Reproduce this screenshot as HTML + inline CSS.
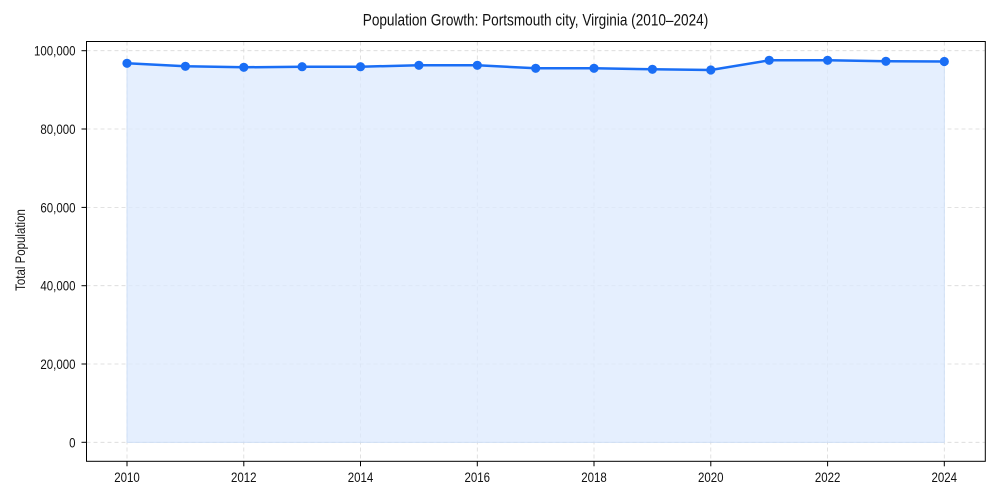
<!DOCTYPE html>
<html><head><meta charset="utf-8"><style>
html,body{margin:0;padding:0;background:#fff;}
svg{display:block;}
text{font-family:"Liberation Sans Narrow","Liberation Sans",sans-serif;fill:#111;}
</style></head><body>
<svg width="1000" height="500" viewBox="0 0 1000 500" xmlns="http://www.w3.org/2000/svg">
<rect x="0" y="0" width="1000" height="500" fill="#fff"/>
<text font-size="16.6" text-anchor="middle" transform="translate(535.5,25.7) scale(0.82,1)">Population Growth: Portsmouth city, Virginia (2010–2024)</text>
<!-- grid -->
<g stroke="#d9d9d9" stroke-width="0.8" stroke-dasharray="4,3" fill="none">
<line x1="86.5" x2="985.3" y1="442.3" y2="442.3"/>
<line x1="86.5" x2="985.3" y1="364" y2="364"/>
<line x1="86.5" x2="985.3" y1="285.7" y2="285.7"/>
<line x1="86.5" x2="985.3" y1="207.4" y2="207.4"/>
<line x1="86.5" x2="985.3" y1="129" y2="129"/>
<line x1="86.5" x2="985.3" y1="50.7" y2="50.7"/>
<line y1="41.5" y2="461.3" x1="127" x2="127"/>
<line y1="41.5" y2="461.3" x1="243.8" x2="243.8"/>
<line y1="41.5" y2="461.3" x1="360.5" x2="360.5"/>
<line y1="41.5" y2="461.3" x1="477.3" x2="477.3"/>
<line y1="41.5" y2="461.3" x1="594" x2="594"/>
<line y1="41.5" y2="461.3" x1="710.8" x2="710.8"/>
<line y1="41.5" y2="461.3" x1="827.6" x2="827.6"/>
<line y1="41.5" y2="461.3" x1="944.3" x2="944.3"/>
</g>
<!-- fill -->
<polygon fill="#dce9fd" fill-opacity="0.75" stroke="#c9dbf5" stroke-width="0.8" points="127,442.3 127,63.3 185.4,66.3 243.8,67.3 302.1,66.7 360.5,66.7 418.9,65.3 477.3,65.3 535.7,68.3 594,68.3 652.4,69.3 710.8,70 769.2,60.3 827.6,60.3 885.9,61.3 944.3,61.5 944.3,442.3"/>
<!-- line -->
<polyline fill="none" stroke="#1a6ef5" stroke-width="2.5" stroke-linejoin="round" points="127,63.3 185.4,66.3 243.8,67.3 302.1,66.7 360.5,66.7 418.9,65.3 477.3,65.3 535.7,68.3 594,68.3 652.4,69.3 710.8,70 769.2,60.3 827.6,60.3 885.9,61.3 944.3,61.5"/>
<g fill="#1a6ef5">
<circle cx="127" cy="63.3" r="4.6"/>
<circle cx="185.4" cy="66.3" r="4.6"/>
<circle cx="243.8" cy="67.3" r="4.6"/>
<circle cx="302.1" cy="66.7" r="4.6"/>
<circle cx="360.5" cy="66.7" r="4.6"/>
<circle cx="418.9" cy="65.3" r="4.6"/>
<circle cx="477.3" cy="65.3" r="4.6"/>
<circle cx="535.7" cy="68.3" r="4.6"/>
<circle cx="594" cy="68.3" r="4.6"/>
<circle cx="652.4" cy="69.3" r="4.6"/>
<circle cx="710.8" cy="70" r="4.6"/>
<circle cx="769.2" cy="60.3" r="4.6"/>
<circle cx="827.6" cy="60.3" r="4.6"/>
<circle cx="885.9" cy="61.3" r="4.6"/>
<circle cx="944.3" cy="61.5" r="4.6"/>
</g>
<!-- axes -->
<rect x="86.5" y="41.5" width="898.8" height="419.8" fill="none" stroke="#000" stroke-width="1"/>
<g stroke="#000" stroke-width="1">
<line x1="81.5" x2="86.5" y1="442.3" y2="442.3"/>
<line x1="81.5" x2="86.5" y1="364" y2="364"/>
<line x1="81.5" x2="86.5" y1="285.7" y2="285.7"/>
<line x1="81.5" x2="86.5" y1="207.4" y2="207.4"/>
<line x1="81.5" x2="86.5" y1="129" y2="129"/>
<line x1="81.5" x2="86.5" y1="50.7" y2="50.7"/>
<line y1="461.3" y2="466.3" x1="127" x2="127"/>
<line y1="461.3" y2="466.3" x1="243.8" x2="243.8"/>
<line y1="461.3" y2="466.3" x1="360.5" x2="360.5"/>
<line y1="461.3" y2="466.3" x1="477.3" x2="477.3"/>
<line y1="461.3" y2="466.3" x1="594" x2="594"/>
<line y1="461.3" y2="466.3" x1="710.8" x2="710.8"/>
<line y1="461.3" y2="466.3" x1="827.6" x2="827.6"/>
<line y1="461.3" y2="466.3" x1="944.3" x2="944.3"/>
</g>
<g font-size="14" text-anchor="end">
<text transform="translate(75.5,447.3) scale(0.82,1)">0</text>
<text transform="translate(75.5,369) scale(0.82,1)">20,000</text>
<text transform="translate(75.5,290.7) scale(0.82,1)">40,000</text>
<text transform="translate(75.5,212.4) scale(0.82,1)">60,000</text>
<text transform="translate(75.5,134) scale(0.82,1)">80,000</text>
<text transform="translate(75.5,55.7) scale(0.82,1)">100,000</text>
</g>
<g font-size="14" text-anchor="middle">
<text transform="translate(127,481.9) scale(0.82,1)">2010</text>
<text transform="translate(243.8,481.9) scale(0.82,1)">2012</text>
<text transform="translate(360.5,481.9) scale(0.82,1)">2014</text>
<text transform="translate(477.3,481.9) scale(0.82,1)">2016</text>
<text transform="translate(594,481.9) scale(0.82,1)">2018</text>
<text transform="translate(710.8,481.9) scale(0.82,1)">2020</text>
<text transform="translate(827.6,481.9) scale(0.82,1)">2022</text>
<text transform="translate(944.3,481.9) scale(0.82,1)">2024</text>
</g>
<text font-size="14" text-anchor="middle" transform="translate(25,250) rotate(-90) scale(0.82,1)">Total Population</text>
</svg>
</body></html>
